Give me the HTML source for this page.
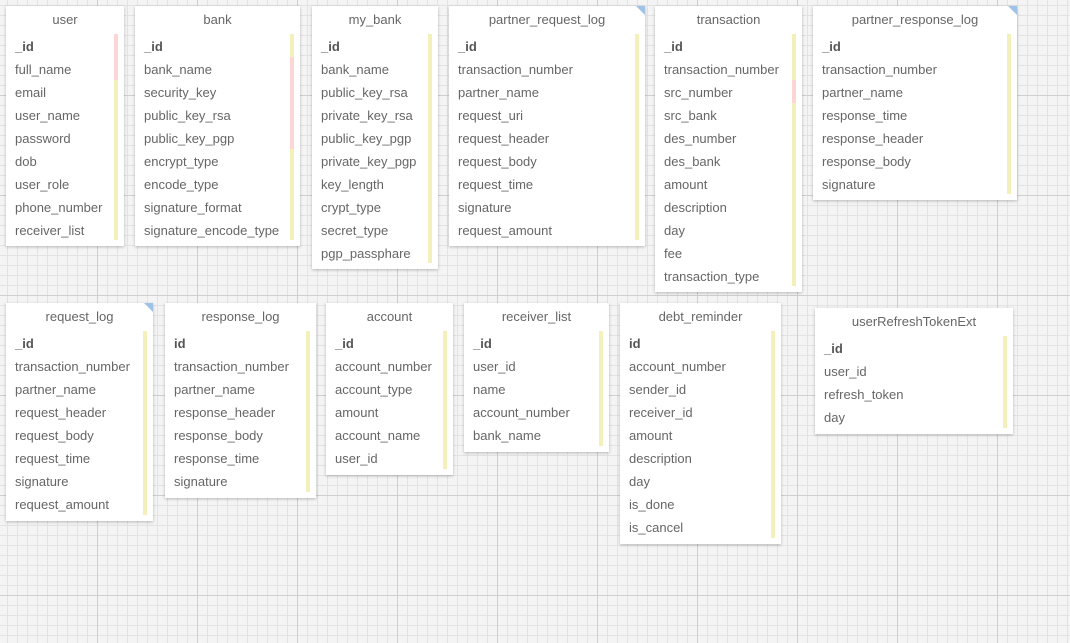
<!DOCTYPE html>
<html><head><meta charset="utf-8"><style>
body{margin:0;width:1070px;height:643px;overflow:hidden;font-family:"Liberation Sans",sans-serif;
background-color:#f4f4f4;
background-image:linear-gradient(90deg,#cfcfcf 1px,transparent 1px),linear-gradient(#cfcfcf 1px,transparent 1px),linear-gradient(90deg,#e3e3e3 1px,transparent 1px),linear-gradient(#e3e3e3 1px,transparent 1px);
background-size:100px 100px,100px 100px,10px 10px,10px 10px;
background-position:97px 0,0 95px,7px 0,0 5px;position:relative}
.c{position:absolute;background:#fff;box-shadow:0 1px 3px rgba(0,0,0,.25);color:#666;font-size:13px}
.t{position:absolute;top:6px;left:0;right:0;text-align:center;font-size:13px;color:#666}
.r{position:absolute;left:9px;white-space:nowrap}
.b{font-weight:bold;color:#555}
.bar{position:absolute;width:4px;background:#f3f0bc}
.pk{position:absolute;width:4px;background:#fcd5d5}
.tri{position:absolute;right:0;top:0;width:0;height:0;border-top:9px solid #9fc3e6;border-left:9px solid transparent}
</style></head><body>
<div id="root"></div>
<script>
const T=[
["user",6,6,118,240,["_id","full_name","email","user_name","password","dob","user_role","phone_number","receiver_list"],0,[[28,74]]],
["bank",135,6,165,240,["_id","bank_name","security_key","public_key_rsa","public_key_pgp","encrypt_type","encode_type","signature_format","signature_encode_type"],0,[[51,143]]],
["my_bank",312,6,126,263,["_id","bank_name","public_key_rsa","private_key_rsa","public_key_pgp","private_key_pgp","key_length","crypt_type","secret_type","pgp_passphare"],0,[]],
["partner_request_log",449,6,196,240,["_id","transaction_number","partner_name","request_uri","request_header","request_body","request_time","signature","request_amount"],1,[]],
["transaction",655,6,147,286,["_id","transaction_number","src_number","src_bank","des_number","des_bank","amount","description","day","fee","transaction_type"],0,[[74,97]]],
["partner_response_log",813,6,204,194,["_id","transaction_number","partner_name","response_time","response_header","response_body","signature"],1,[]],
["request_log",6,303,147,218,["_id","transaction_number","partner_name","request_header","request_body","request_time","signature","request_amount"],1,[]],
["response_log",165,303,151,195,["id","transaction_number","partner_name","response_header","response_body","response_time","signature"],0,[]],
["account",326,303,127,172,["_id","account_number","account_type","amount","account_name","user_id"],0,[]],
["receiver_list",464,303,145,149,["_id","user_id","name","account_number","bank_name"],0,[]],
["debt_reminder",620,303,161,241,["id","account_number","sender_id","receiver_id","amount","description","day","is_done","is_cancel"],0,[]],
["userRefreshTokenExt",815,308,198,126,["_id","user_id","refresh_token","day"],0,[]]
];
let h="";
for(const [n,x,y,w,ht,f,tri,pk] of T){
 h+=`<div class="c" style="left:${x}px;top:${y}px;width:${w}px;height:${ht}px"><div class="t">${n}</div>`;
 f.forEach((s,i)=>{h+=`<div class="r${i==0?' b':''}" style="top:${33+i*23}px">${s}</div>`});
 h+=`<div class="bar" style="left:${w-10}px;top:28px;height:${ht-34}px"></div>`;
 for(const [a,b] of pk)h+=`<div class="pk" style="left:${w-10}px;top:${a}px;height:${b-a}px"></div>`;
 if(tri)h+=`<div class="tri"></div>`;
 h+=`</div>`;
}
document.getElementById("root").innerHTML=h;
</script>
</body></html>
